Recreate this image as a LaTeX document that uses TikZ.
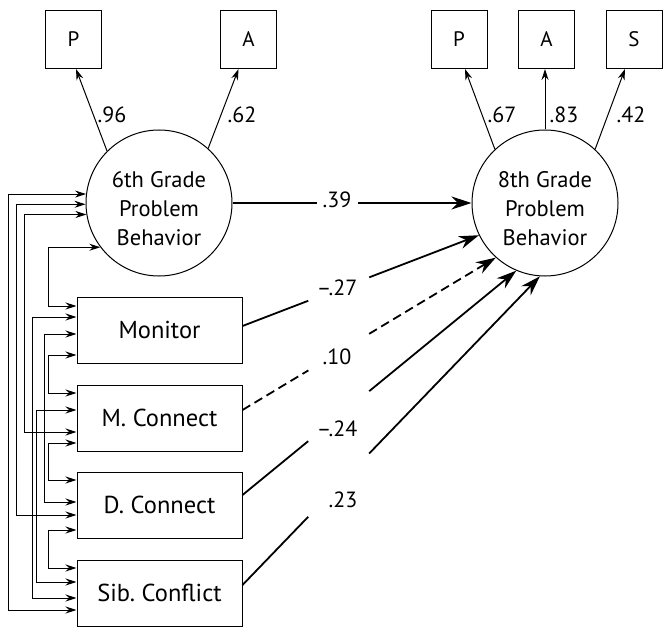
\documentclass[tikz,border=0pt]{standalone}
\usepackage{fontspec}
\setmainfont{PT Sans}
\usetikzlibrary{arrows.meta,calc}
\begin{document}
\frenchspacing
\begin{tikzpicture}[x=1pt,y=-1pt,
  box/.style={draw, line width=1pt, minimum width=165pt, minimum height=66pt, inner sep=0pt, font=\fontsize{24.5}{28}\selectfont},
  ind/.style={draw, line width=1pt, minimum width=56pt, minimum height=58pt, inner sep=0pt, font=\fontsize{21}{24}\selectfont},
  latent/.style={draw, circle, line width=1pt, minimum size=146pt, inner sep=0pt},
  ltext/.style={align=center, inner sep=0pt, font=\fontsize{22.5}{29}\selectfont},
  coef/.style={font=\fontsize{22}{26}\selectfont, inner sep=0pt},
  load/.style={line width=1pt, -{Stealth[length=11pt,width=7pt]}},
  corr/.style={line width=1pt, {Stealth[length=11pt,width=7pt]}-{Stealth[length=11pt,width=7pt]}},
  effect/.style={line width=1.8pt},
  effarrow/.style={effect, -{Stealth[length=20pt,width=13pt]}},
  effdash/.style={dash pattern=on 9pt off 5pt}
]
\useasboundingbox (0,0) rectangle (671,636);

% latent variables
\node[latent] (c6) at (159,203) {};
\node[latent] (c8) at (545,203) {};
\node[ltext] (t6) at (159,208.5) {6th Grade\\Problem\\Behavior};
\node[ltext] (t8) at (545,208.5) {8th Grade\\Problem\\Behavior};

% indicators
\node[ind] (p1) at (73.5,39.5) {P};
\node[ind] (a1) at (248.5,39.5) {A};
\node[ind] (p2) at (459,39.5) {P};
\node[ind] (a2) at (546.5,39.5) {A};
\node[ind] (s2) at (634,39.5) {S};

% observed predictors
\node[box] (mon) at (159.5,330) {Monitor};
\node[box] (mc) at (159.5,418) {M. Connect};
\node[box] (dc) at (159.5,505) {D. Connect};
\node[box] (sib) at (159.5,593) {Sib. Conflict};

% loadings
\draw[load] (c6.135) -- ([xshift=2.5pt]p1.south);
\draw[load] (c6.48) -- ([xshift=-10pt]a1.south);
\draw[load] (c8.133) -- ([xshift=6pt]p2.south);
\draw[load] (c8.north) -- (c8.north |- a2.south);
\draw[load] (c8.47) -- ([xshift=-9pt]s2.south);
\node[coef] (l1) at (112,115) {.96};
\node[coef] (l2) at (242,115) {.62};
\node[coef] (l3) at (502,115) {.67};
\node[coef] (l4) at (564,115) {.83};
\node[coef] (l5) at (631,115) {.42};

% structural paths
\draw[effect] (c6.east) -- ($(c6.east)!0.354!(c8.west)$);
\draw[effarrow] ($(c6.east)!0.525!(c8.west)$) -- (c8.west);
\node[coef] (b1) at (337,200) {.39};

\coordinate (e1) at ($(mon.east)+(0,-4)$);
\coordinate (e2) at ($(mc.east)+(0,-8)$);
\coordinate (e3) at ($(dc.east)+(0,-10)$);
\coordinate (e4) at ($(sib.east)+(0,-8)$);

\draw[effect] (e1) -- ($(e1)!0.278!(c8.206)$);
\draw[effarrow] ($(e1)!0.536!(c8.206)$) -- (c8.206);
\node[coef] (b2) at (337,288) {–.27};

\draw[effect,effdash] (e2) -- ($(e2)!0.26!(c8.228)$);
\draw[effarrow,effdash] ($(e2)!0.5!(c8.228)$) -- (c8.228);
\node[coef] (b3) at (337,357) {.10};

\draw[effect] (e3) -- ($(e3)!0.24!(c8.247)$);
\draw[effarrow] ($(e3)!0.463!(c8.247)$) -- (c8.247);
\node[coef] (b4) at (337,429) {–.24};

\draw[effect] (e4) -- ($(e4)!0.221!(c8.266)$);
\draw[effarrow] ($(e4)!0.426!(c8.266)$) -- (c8.266);
\node[coef] (b5) at (343,500) {.23};

% correlation points
\coordinate (k8) at (8,0);
\coordinate (k16) at (16,0);
\coordinate (k24) at (24,0);
\coordinate (k32) at (32,0);
\coordinate (k36) at (36,0);
\coordinate (k44) at (44,0);
\coordinate (k48) at (48,0);

\coordinate (cc1) at (c6.173.7);
\coordinate (cc2) at (c6.181.6);
\coordinate (cc3) at (c6.189.5);
\coordinate (cc4) at (c6.217.1);

\coordinate (mo1) at ($(mon.west)+(0,-24)$);
\coordinate (mo2) at ($(mon.west)+(0,-13)$);
\coordinate (mo3) at ($(mon.west)+(0,4)$);
\coordinate (mo4) at ($(mon.west)+(0,25)$);
\coordinate (mc1) at ($(mc.west)+(0,-25)$);
\coordinate (mc2) at ($(mc.west)+(0,-8)$);
\coordinate (mc3) at ($(mc.west)+(0,14)$);
\coordinate (mc4) at ($(mc.west)+(0,25)$);
\coordinate (dc1) at ($(dc.west)+(0,-25)$);
\coordinate (dc2) at ($(dc.west)+(0,-3)$);
\coordinate (dc3) at ($(dc.west)+(0,10)$);
\coordinate (dc4) at ($(dc.west)+(0,25)$);
\coordinate (sb1) at ($(sib.west)+(0,-25)$);
\coordinate (sb2) at ($(sib.west)+(0,-11)$);
\coordinate (sb3) at ($(sib.west)+(0,5)$);
\coordinate (sb4) at ($(sib.west)+(0,17)$);

% correlations
\draw[corr] (cc1) -- (cc1 -| k8) -- (sb4 -| k8) -- (sb4);
\draw[corr] (cc2) -- (cc2 -| k16) -- (dc3 -| k16) -- (dc3);
\draw[corr] (cc3) -- (cc3 -| k24) -- (mc3 -| k24) -- (mc3);
\draw[corr] (cc4) -- (cc4 -| k48) -- (mo1 -| k48) -- (mo1);
\draw[corr] (mo2) -- (mo2 -| k32) -- (sb3 -| k32) -- (sb3);
\draw[corr] (mo3) -- (mo3 -| k44) -- (dc2 -| k44) -- (dc2);
\draw[corr] (mo4) -- (mo4 -| k48) -- (mc1 -| k48) -- (mc1);
\draw[corr] (mc2) -- (mc2 -| k36) -- (sb2 -| k36) -- (sb2);
\draw[corr] (mc4) -- (mc4 -| k48) -- (dc1 -| k48) -- (dc1);
\draw[corr] (dc4) -- (dc4 -| k48) -- (sb1 -| k48) -- (sb1);
\end{tikzpicture}
\end{document}
